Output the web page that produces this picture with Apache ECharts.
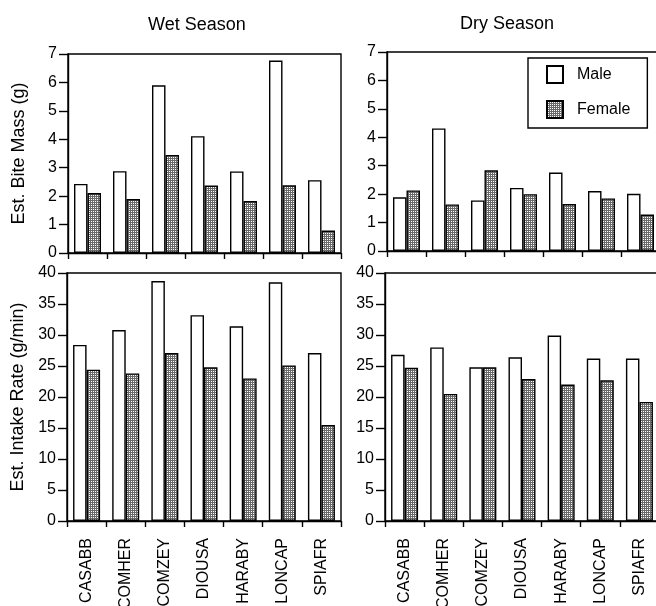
<!DOCTYPE html>
<html><head><meta charset="utf-8">
<script src="https://cdn.jsdelivr.net/npm/echarts@6/dist/echarts.min.js"></script>
<style>html,body{margin:0;padding:0;background:#fff}#c{width:656px;height:606px}</style>
</head><body><div id="c"></div>
<script>
const categories = ['CASABB','COMHER','COMZEY','DIOUSA','HARABY','LONCAP','SPIAFR'];
const wetBiteMale = [2.43,2.88,5.90,4.11,2.87,6.77,2.56];
const wetBiteFemale = [2.11,1.90,3.45,2.37,1.83,2.38,0.79];
const dryBiteMale = [1.89,4.31,1.78,2.22,2.76,2.11,2.01];
const dryBiteFemale = [2.13,1.64,2.84,2.00,1.65,1.85,1.28];
const wetIntakeMale = [28.4,30.8,38.7,33.2,31.4,38.5,27.1];
const wetIntakeFemale = [24.4,23.8,27.1,24.8,23.0,25.1,15.5];
const dryIntakeMale = [26.8,28.0,24.8,26.4,29.9,26.2,26.2];
const dryIntakeFemale = [24.7,20.5,24.8,22.9,22.0,22.7,19.2];
const biteRange = {min:0,max:7,interval:1};
const intakeRange = {min:0,max:40,interval:5};
const seriesNames = ['Male','Female'];
const panelTitles = ['Wet Season','Dry Season'];
const yNames = ['Est. Bite Mass (g)','Est. Intake Rate (g/min)'];

const FONT = "'Liberation Sans', Arial, sans-serif";
const pat = document.createElement('canvas');
pat.width = 2; pat.height = 2;
const pc = pat.getContext('2d');
pc.fillStyle = '#6a6a6a'; pc.fillRect(0,0,2,2);
pc.fillStyle = '#ffffff'; pc.fillRect(1,1,1,1);
const femaleFill = {image: pat, repeat: 'repeat'};

const grids = [
  {left:68, top:54, width:273, height:199},
  {left:387, top:52, width:273, height:199},
  {left:67, top:273, width:274, height:248},
  {left:385, top:273, width:274, height:248}
];
const black = '#000';
const LW = 1.4;
const xAxes = grids.map((g,i)=>({
  type:'category', gridIndex:i, data:categories,
  axisLine:{show:true, lineStyle:{color:black, width:LW}},
  axisTick:{show:true, length:6, lineStyle:{color:black, width:LW}},
  axisLabel:{show:i>=2, rotate:90, margin:17, fontSize:16, color:black, fontFamily:FONT},
  splitLine:{show:false}
}));
const ranges = [biteRange, biteRange, intakeRange, intakeRange];
const yAxes = grids.map((g,i)=>({
  type:'value', gridIndex:i, min:ranges[i].min, max:ranges[i].max, interval:ranges[i].interval,
  axisLine:{show:true, lineStyle:{color:black, width:LW}},
  axisTick:{show:true, length:9, lineStyle:{color:black, width:LW}},
  axisLabel:{margin:11, fontSize:16, color:black, fontFamily:FONT},
  splitLine:{show:false},
  name: (i===0? yNames[0] : (i===2? yNames[1] : '')),
  nameLocation:'middle', nameGap:40,
  nameTextStyle:{fontSize:18, color:black, fontFamily:FONT}
}));
const data = [[wetBiteMale,wetBiteFemale],[dryBiteMale,dryBiteFemale],[wetIntakeMale,wetIntakeFemale],[dryIntakeMale,dryIntakeFemale]];
const series = [];
data.forEach((pair,i)=>{
  series.push({type:'bar', name:seriesNames[0], xAxisIndex:i, yAxisIndex:i, data:pair[0], barWidth:13.5, barGap:'0%',
    itemStyle:{color:'#fff', borderColor:black, borderWidth:LW}, emphasis:{disabled:true}, animation:false});
  series.push({type:'bar', name:seriesNames[1], xAxisIndex:i, yAxisIndex:i, data:pair[1], barWidth:13.5, barGap:'0%',
    itemStyle:{color:femaleFill, borderColor:black, borderWidth:LW}, emphasis:{disabled:true}, animation:false});
});
const chart = echarts.init(document.getElementById('c'), null, {renderer:'canvas'});
chart.setOption({
  animation:false,
  backgroundColor:'#fff',
  textStyle:{fontFamily:FONT},
  title:[
    {text:panelTitles[0], left:143, top:11, textStyle:{fontSize:18, fontWeight:'normal', color:black, fontFamily:FONT}},
    {text:panelTitles[1], left:455, top:10, textStyle:{fontSize:18, fontWeight:'normal', color:black, fontFamily:FONT}}
  ],
  legend:{data:seriesNames, orient:'vertical', left:528, top:58, icon:'rect', itemWidth:16, itemHeight:17, itemGap:16,
    padding:[7,17,9,18], borderColor:black, borderWidth:LW, backgroundColor:'#fff', selectedMode:false,
    textStyle:{fontSize:16, color:black, fontFamily:FONT, padding:[0,0,0,9]}},
  grid: grids.map(g=>Object.assign({show:true, borderColor:black, borderWidth:LW, backgroundColor:'transparent', containLabel:false, outerBoundsMode:'none'}, g)),
  xAxis:xAxes, yAxis:yAxes, series:series
});
</script></body></html>
